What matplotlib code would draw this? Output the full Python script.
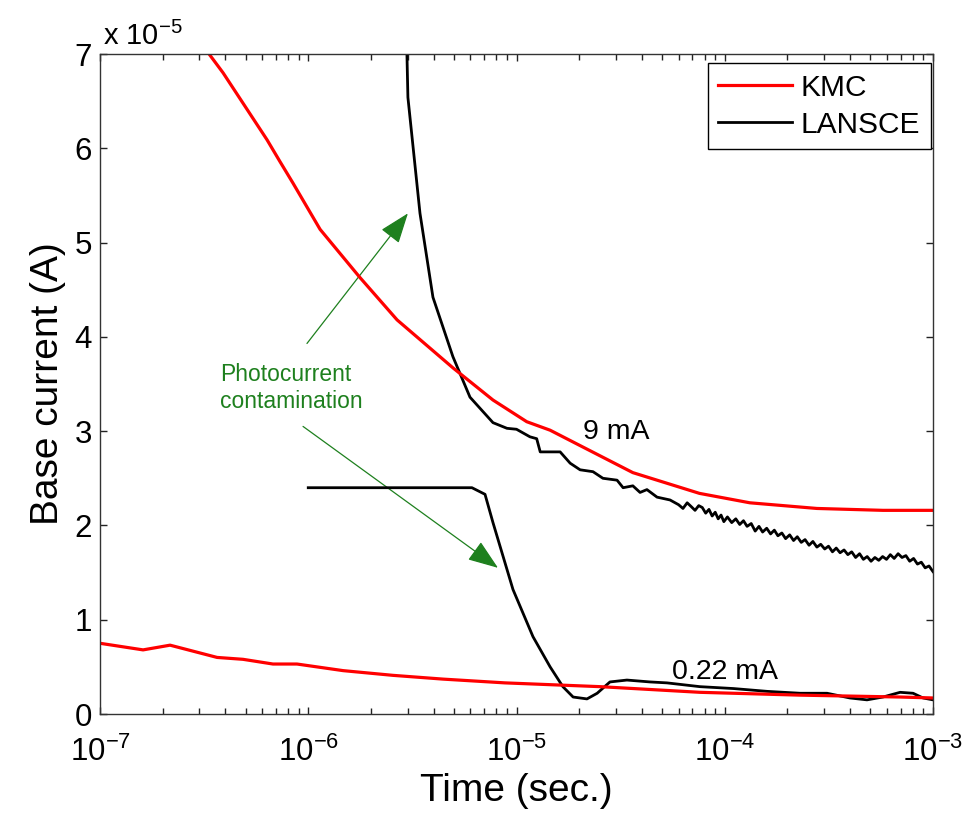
import matplotlib
matplotlib.use("Agg")
import matplotlib.pyplot as plt
from matplotlib.patches import FancyArrowPatch
from matplotlib.ticker import LogLocator, NullFormatter, FixedLocator
import numpy as np

plt.rcParams['font.family'] = ['Liberation Sans', 'DejaVu Sans']
plt.rcParams['mathtext.fontset'] = 'custom'
plt.rcParams['mathtext.rm'] = 'Liberation Sans'
plt.rcParams['mathtext.it'] = 'Liberation Sans:italic'
plt.rcParams['mathtext.default'] = 'regular'

# base current in units of 1e-5 A, time in seconds
kmc_9mA_t = [3.34e-7, 3.90e-7, 6.34e-7, 7.31e-7, 8.45e-7, 1.14e-6, 1.77e-6, 2.67e-6,
             4.96e-6, 7.71e-6, 1.12e-5, 1.45e-5, 2.09e-5, 3.62e-5, 7.56e-5, 1.32e-4,
             2.77e-4, 5.75e-4, 1.0e-3]
kmc_9mA_i = [7.00, 6.80, 6.09, 5.86, 5.63, 5.14, 4.63, 4.18,
             3.67, 3.33, 3.10, 3.01, 2.83, 2.56, 2.34, 2.24,
             2.18, 2.16, 2.16]

kmc_022mA_t = [1.0e-7, 1.61e-7, 2.17e-7, 3.65e-7, 4.86e-7, 6.77e-7, 8.83e-7, 1.47e-6,
               2.55e-6, 4.44e-6, 8.81e-6, 2.52e-5, 7.60e-5, 2.30e-4, 6.95e-4, 1.0e-3]
kmc_022mA_i = [0.75, 0.68, 0.73, 0.60, 0.58, 0.53, 0.53, 0.46,
               0.41, 0.37, 0.33, 0.29, 0.23, 0.20, 0.18, 0.17]

lansce_9mA_t = [2.95e-6, 3.01e-6, 3.44e-6, 3.97e-6, 4.95e-6, 5.98e-6, 7.71e-6, 9.0e-6,
                1.0e-5, 1.16e-5, 1.25e-5, 1.30e-5, 1.62e-5, 1.81e-5, 2.02e-5, 2.33e-5,
                2.60e-5, 3.04e-5, 3.25e-5, 3.62e-5, 3.92e-5, 4.23e-5, 4.73e-5, 5.46e-5,
                6.0e-5, 6.3e-5, 6.6e-5, 6.9e-5, 7.2e-5, 7.5e-5, 7.8e-5, 8.1e-5,
                8.4e-5, 8.7e-5, 9.0e-5, 9.3e-5, 9.6e-5, 9.9e-5,
                1.03e-4, 1.08e-4, 1.13e-4, 1.18e-4, 1.23e-4, 1.28e-4, 1.34e-4, 1.40e-4,
                1.46e-4, 1.52e-4, 1.59e-4, 1.66e-4, 1.73e-4, 1.80e-4, 1.88e-4, 1.96e-4,
                2.05e-4, 2.14e-4, 2.23e-4, 2.33e-4, 2.43e-4, 2.54e-4, 2.65e-4, 2.77e-4,
                2.89e-4, 3.02e-4, 3.15e-4, 3.29e-4, 3.43e-4, 3.58e-4, 3.74e-4, 3.90e-4,
                4.07e-4, 4.25e-4, 4.44e-4, 4.63e-4, 4.83e-4, 5.04e-4, 5.26e-4, 5.49e-4,
                5.73e-4, 5.98e-4, 6.24e-4, 6.51e-4, 6.80e-4, 7.10e-4, 7.41e-4, 7.73e-4,
                8.07e-4, 8.42e-4, 8.79e-4, 9.17e-4, 9.57e-4, 1.0e-3]
lansce_9mA_i = [7.40, 6.54, 5.31, 4.42, 3.79, 3.36, 3.09, 3.03,
                3.02, 2.94, 2.92, 2.78, 2.78, 2.66, 2.59, 2.57,
                2.50, 2.48, 2.40, 2.42, 2.35, 2.38, 2.30, 2.27,
                2.22, 2.18, 2.24, 2.20, 2.16, 2.21, 2.19, 2.13,
                2.17, 2.10, 2.14, 2.07, 2.11, 2.04,
                2.09, 2.03, 2.07, 2.01, 2.05, 1.99, 2.02, 1.94,
                1.99, 1.93, 1.97, 1.91, 1.95, 1.89, 1.92, 1.86,
                1.90, 1.84, 1.88, 1.82, 1.85, 1.79, 1.83, 1.77,
                1.80, 1.75, 1.78, 1.72, 1.76, 1.71, 1.74, 1.69,
                1.72, 1.66, 1.70, 1.64, 1.67, 1.62, 1.66, 1.63,
                1.67, 1.64, 1.69, 1.65, 1.70, 1.66, 1.68, 1.62,
                1.65, 1.59, 1.61, 1.55, 1.57, 1.51]

lansce_022mA_t = [1.0e-6, 6.11e-6, 7.06e-6, 7.71e-6, 9.62e-6, 1.20e-5, 1.45e-5, 1.67e-5,
                  1.87e-5, 2.18e-5, 2.44e-5, 2.81e-5, 3.39e-5, 4.38e-5, 5.28e-5, 7.60e-5,
                  1.10e-4, 1.60e-4, 2.30e-4, 3.10e-4, 3.99e-4, 4.82e-4, 5.75e-4, 6.95e-4,
                  8.02e-4, 8.96e-4, 1.0e-3]
lansce_022mA_i = [2.40, 2.40, 2.33, 2.03, 1.32, 0.82, 0.50, 0.29,
                  0.18, 0.16, 0.22, 0.34, 0.36, 0.34, 0.33, 0.29,
                  0.27, 0.24, 0.22, 0.22, 0.17, 0.15, 0.18, 0.23,
                  0.22, 0.17, 0.15]

yticks = [0, 1, 2, 3, 4, 5, 6, 7]
xticks = [1e-7, 1e-6, 1e-5, 1e-4, 1e-3]

fig = plt.figure(figsize=(9.78, 8.14), dpi=100)
ax = fig.add_axes([100/978, 100/814, 833/978, 660/814])

ax.plot(lansce_9mA_t, lansce_9mA_i, color='black', lw=2.0)
lansce_line, = ax.plot(lansce_022mA_t, lansce_022mA_i, color='black', lw=2.0)
kmc_line, = ax.plot(kmc_9mA_t, kmc_9mA_i, color='#ff0000', lw=2.3)
ax.plot(kmc_022mA_t, kmc_022mA_i, color='#ff0000', lw=2.3)

ax.set_xscale('log')
ax.set_xlim(1e-7, 1e-3)
ax.set_ylim(0, 7)
ax.xaxis.set_major_locator(FixedLocator(xticks))
ax.xaxis.set_minor_locator(LogLocator(base=10, subs=np.arange(2, 10)))
ax.xaxis.set_minor_formatter(NullFormatter())
ax.set_yticks(yticks)
ax.set_yticklabels([str(v) for v in yticks])

ax.tick_params(axis='both', which='both', direction='in', top=True, right=True,
               labelsize=22.5, colors='#222222', labelcolor='black')
ax.tick_params(axis='both', which='major', length=5, width=1)
ax.tick_params(axis='x', which='minor', length=4, width=1)
ax.tick_params(axis='y', which='major', pad=6)
ax.tick_params(axis='x', which='major', pad=16)
for s in ax.spines.values():
    s.set_color('#333333')
    s.set_linewidth(1.0)

ax.set_xlabel('Time (sec.)', fontsize=28, labelpad=4)
ax.set_ylabel('Base current (A)', fontsize=28, labelpad=6)

# exponent label, MATLAB style
ax.text(0.004, 1.004, r'x 10$^{-5}$', transform=ax.transAxes, fontsize=21,
        ha='left', va='bottom')

leg = ax.legend([kmc_line, lansce_line], ['KMC', 'LANSCE'], loc='upper right',
                bbox_to_anchor=(0.997, 0.986), borderaxespad=0, fontsize=21.5,
                frameon=True, fancybox=False, framealpha=1, edgecolor='black',
                handlelength=2.45, handletextpad=0.3, labelspacing=0.3,
                borderpad=0.35)
leg.get_frame().set_linewidth(1.0)

# annotations
green = '#1e801e'
ax.text(3.77e-7, 3.46, 'Photocurrent\ncontamination', color=green, fontsize=16.5,
        ha='left', va='center', linespacing=1.25)
for tail, head in [((9.86e-7, 3.93), (3.01e-6, 5.31)),
                   ((9.44e-7, 3.05), (8.15e-6, 1.55))]:
    arr = FancyArrowPatch(tail, head, arrowstyle='-|>,head_length=1.9,head_width=0.7',
                          mutation_scale=10, color=green, lw=0.9,
                          shrinkA=0, shrinkB=0)
    ax.add_patch(arr)

ax.text(2.09e-5, 2.99, '9 mA', fontsize=20.5, ha='left', va='center')
ax.text(5.58e-5, 0.445, '0.22 mA', fontsize=20.5, ha='left', va='center')

fig.savefig('out.png', dpi=100)
